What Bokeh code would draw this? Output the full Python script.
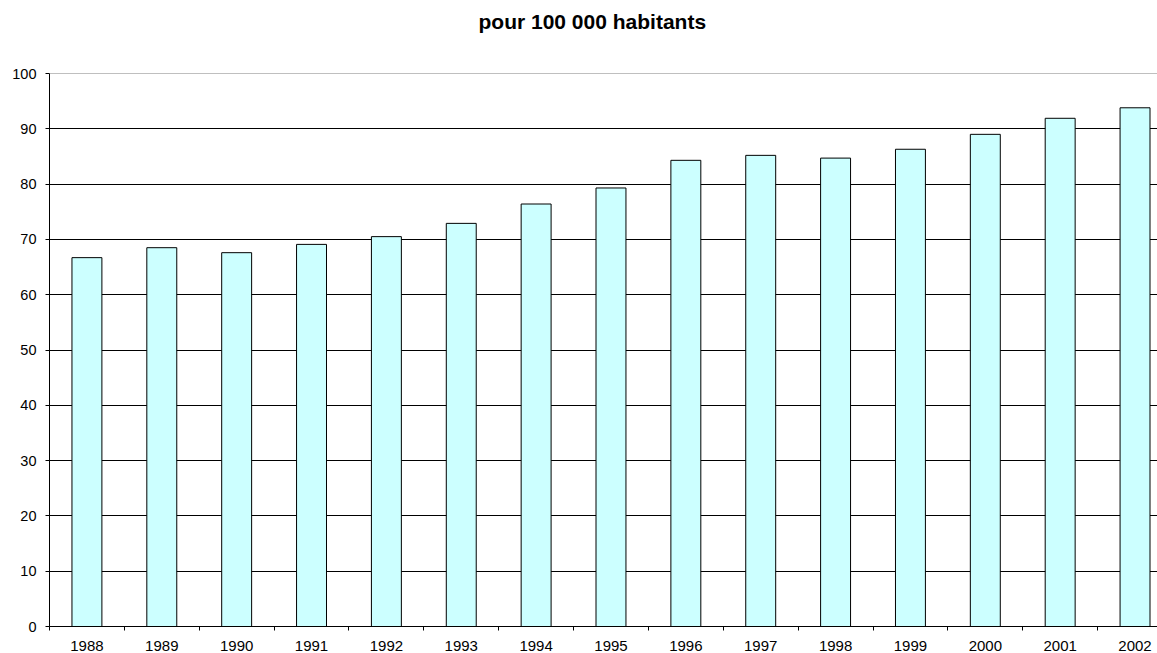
from bokeh.plotting import figure
from bokeh.models import Range1d, FixedTicker, Span, Title
from bokeh.embed import file_html
from bokeh.resources import INLINE

years = ["1988", "1989", "1990", "1991", "1992", "1993", "1994", "1995",
         "1996", "1997", "1998", "1999", "2000", "2001", "2002"]
values = [66.7, 68.5, 67.6, 69.1, 70.5, 72.9, 76.4, 79.3,
          84.3, 85.2, 84.7, 86.3, 89.0, 91.9, 93.8]
y_ticks = [0, 10, 20, 30, 40, 50, 60, 70, 80, 90, 100]
title_text = "pour 100 000 habitants"

FONT = "Liberation Sans"

p = figure(width=1157, height=653, output_backend="svg", toolbar_location=None,
           x_range=Range1d(0, 14.8), y_range=Range1d(0, 100),
           min_border_left=49, min_border_right=0, min_border_top=73, min_border_bottom=27,
           title=title_text)

centers = [i + 0.5 for i in range(len(years))]
p.vbar(x=centers, top=values, width=0.4, bottom=0,
       fill_color="#CCFFFF", line_color="black", line_width=1)

p.title.text_font = FONT
p.title.text_font_size = "21px"
p.title.text_font_style = "bold"
p.title.text_color = "black"
p.title.align = "left"
p.title.vertical_align = "middle"
p.title.offset = 429
p.title.standoff = 17

# blank spacer panel between the title and the plot frame
p.add_layout(Title(text=" ", text_font_size="10px", standoff=18), "above")

p.outline_line_color = None
p.background_fill_color = "white"
p.border_fill_color = "white"

# grid
p.xgrid.grid_line_color = None
p.ygrid.grid_line_color = "black"
p.ygrid.grid_line_width = 1
p.ygrid.ticker = FixedTicker(ticks=y_ticks)
p.add_layout(Span(location=y_ticks[-1], dimension="width", line_color="#808080", line_width=1))

# y axis
p.yaxis.ticker = FixedTicker(ticks=y_ticks)
p.yaxis.axis_line_color = "black"
p.yaxis.major_tick_out = 4
p.yaxis.major_tick_in = 0
p.yaxis.minor_tick_line_color = None
p.yaxis.major_label_standoff = 9
p.yaxis.major_label_text_font = FONT
p.yaxis.major_label_text_font_size = "14.5px"
p.yaxis.major_label_text_color = "black"

# x axis
p.xaxis.ticker = FixedTicker(ticks=centers, minor_ticks=list(range(len(years) + 1)))
p.xaxis.major_label_overrides = {c: y for c, y in zip(centers, years)}
p.xaxis.axis_line_color = "black"
p.xaxis.major_tick_out = 0
p.xaxis.major_tick_in = 0
p.xaxis.minor_tick_out = 4
p.xaxis.minor_tick_in = 0
p.xaxis.minor_tick_line_color = "black"
p.xaxis.major_label_standoff = 10
p.xaxis.major_label_text_font = FONT
p.xaxis.major_label_text_font_size = "15px"
p.xaxis.major_label_text_color = "black"

open("out.html", "w").write(file_html(p, INLINE))
